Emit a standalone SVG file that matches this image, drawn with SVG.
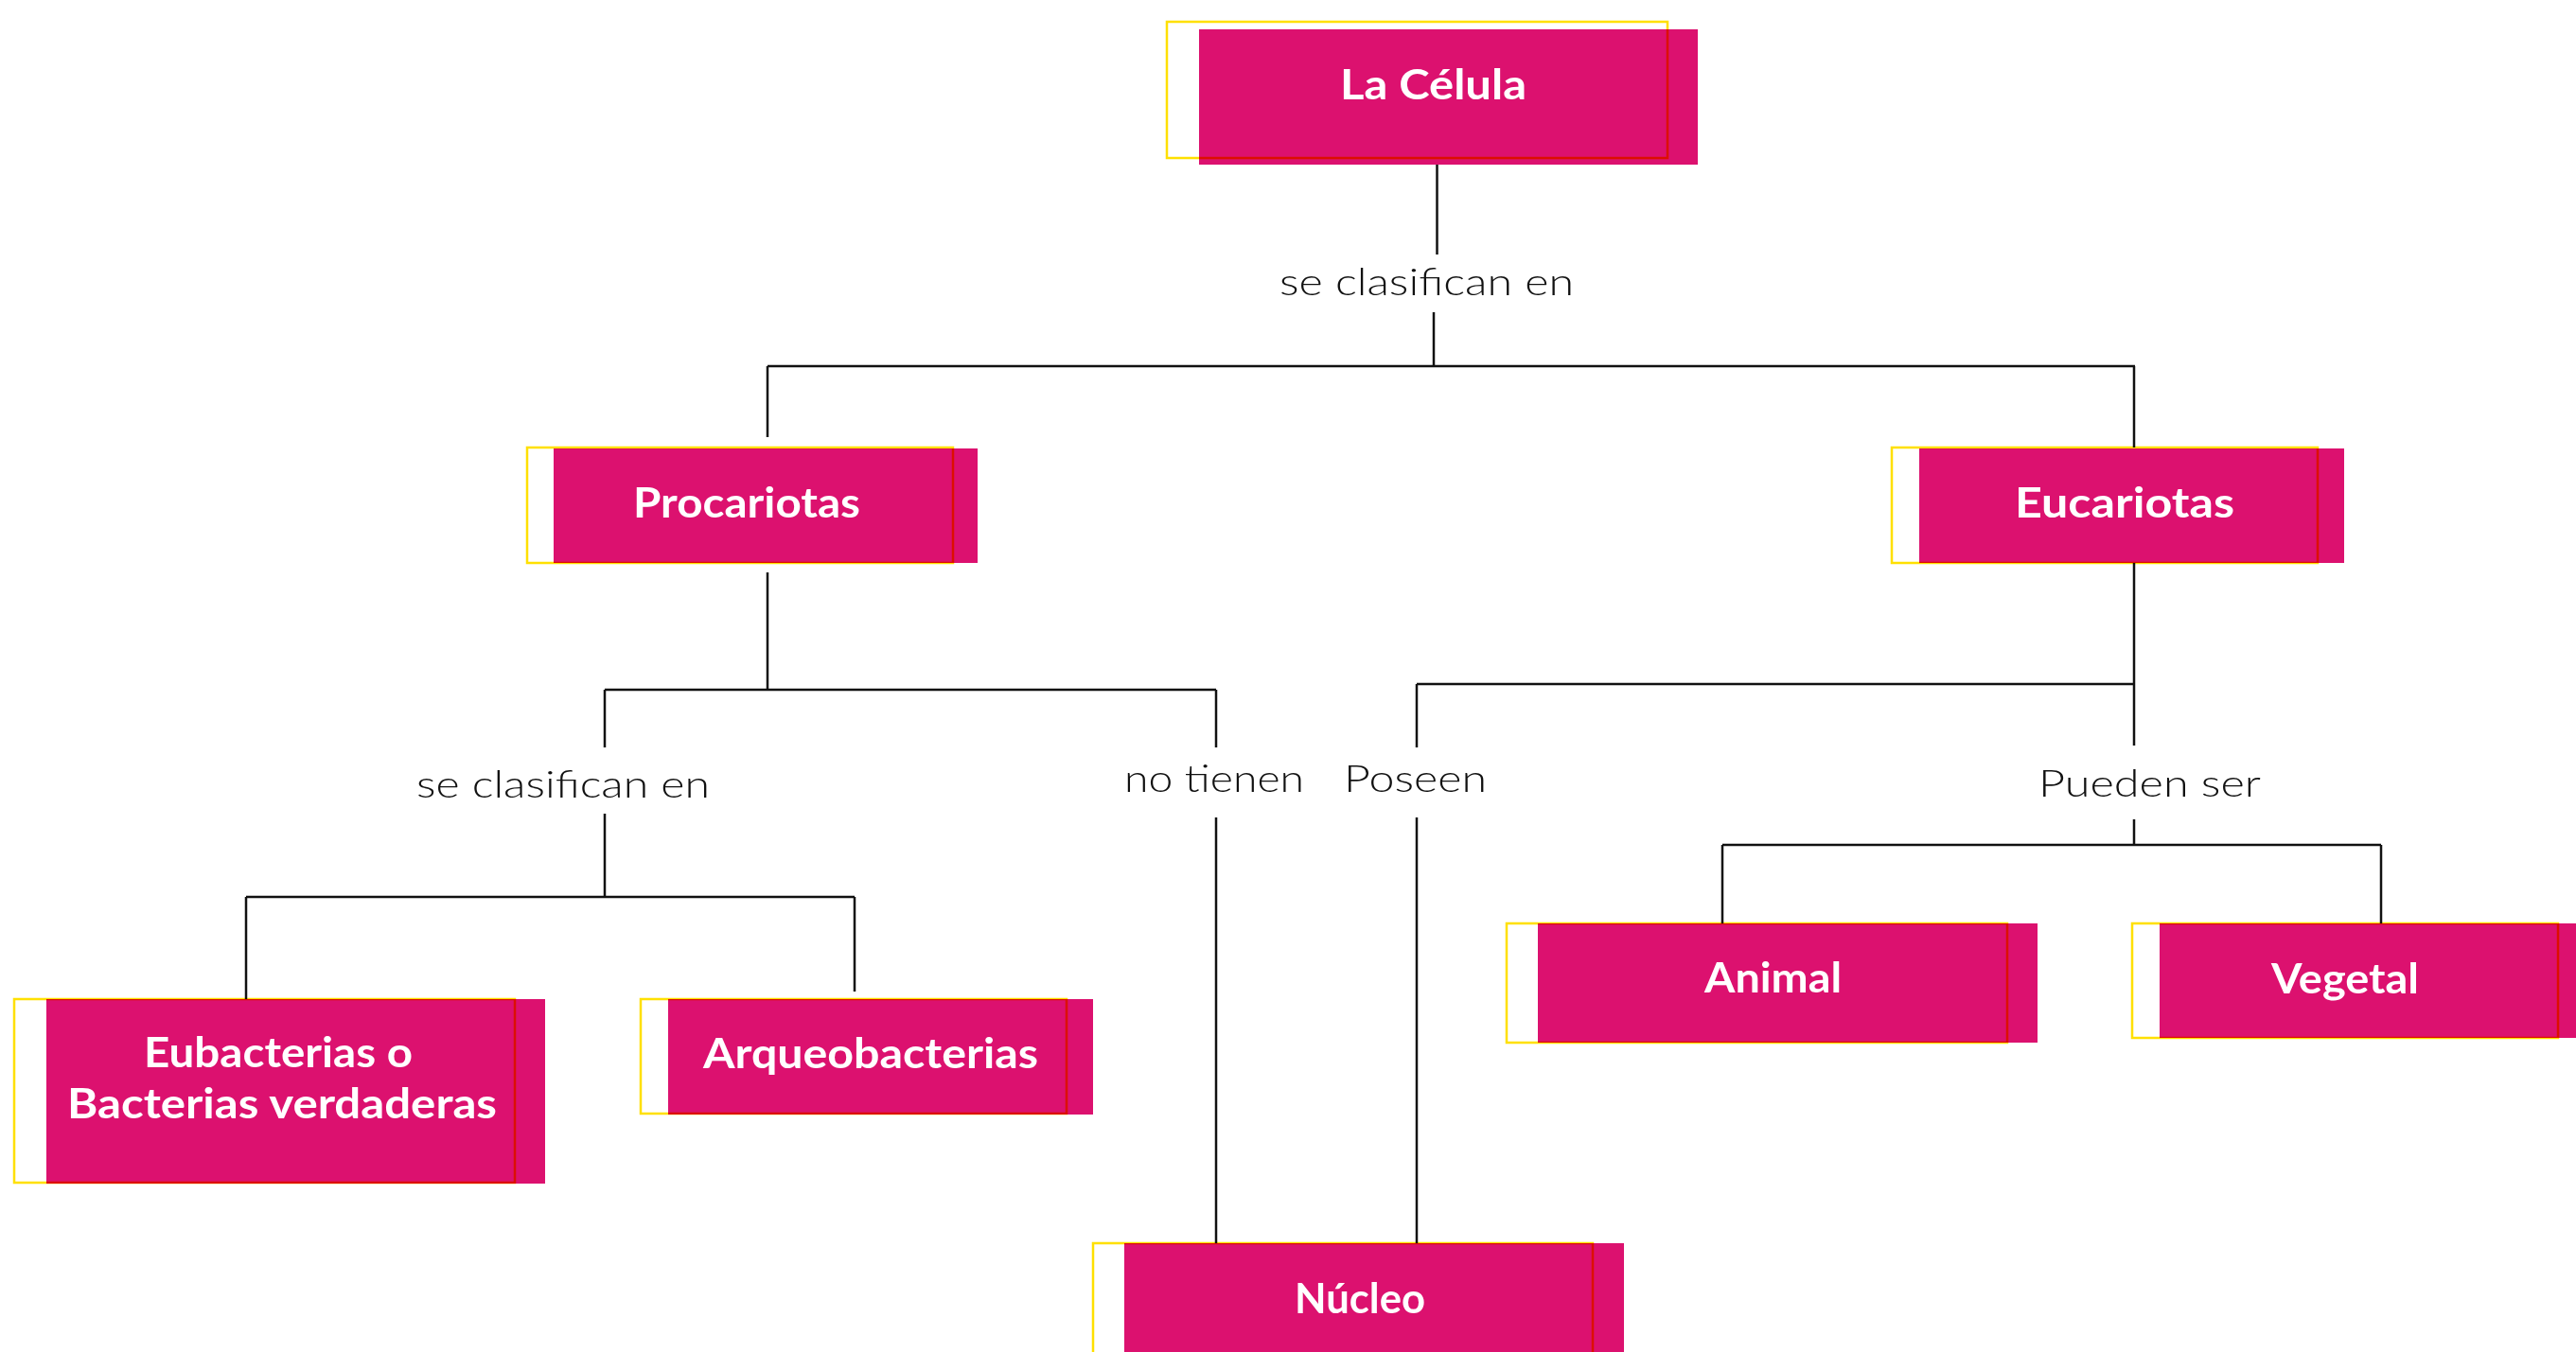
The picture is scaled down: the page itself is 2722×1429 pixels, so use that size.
<svg xmlns="http://www.w3.org/2000/svg" width="2722" height="1429" viewBox="0 0 2722 1429">
<style>
.fill{fill:#DC116F;}
.out{fill:none;stroke:#FFE000;stroke-width:2.5;mix-blend-mode:multiply;}
.t{fill:#FFFFFF;font-family:Lato,"Open Sans","Liberation Sans",sans-serif;font-weight:700;font-size:44px;}
.lb{fill:#111111;font-family:Lato,"Open Sans","Liberation Sans",sans-serif;font-weight:300;font-size:40px;}
.c{fill:none;stroke:#111111;stroke-width:2.5;}
</style>
<rect x="0" y="0" width="2722" height="1429" fill="#FFFFFF"/>
<g id="connectors">
<path class="c" d="M1518.5 174 V269"/>
<path class="c" d="M1515 330 V387 M811 387 H2256 M811 387 V462 M2255 387 V473"/>
<path class="c" d="M811 605 V729 M639 729 H1285 M639 729 V790 M1285 729 V790"/>
<path class="c" d="M639 860 V948 M260 948 H903 M260 948 V1056 M903 948 V1048"/>
<path class="c" d="M1285 864 V1314"/>
<path class="c" d="M2255 595 V788 M1497 723 H2256 M1497 723 V790 M1497 864 V1314"/>
<path class="c" d="M2255 866 V893 M1820 893 H2516 M1820 893 V976 M2516 893 V976"/>
</g>
<g id="labels">
<text class="lb" x="1352" y="312" textLength="311" lengthAdjust="spacingAndGlyphs">se clasifican en</text>
<text class="lb" x="440" y="843" textLength="310" lengthAdjust="spacingAndGlyphs">se clasifican en</text>
<text class="lb" x="1188" y="837" textLength="190" lengthAdjust="spacingAndGlyphs">no tienen</text>
<text class="lb" x="1420" y="837" textLength="151" lengthAdjust="spacingAndGlyphs">Poseen</text>
<text class="lb" x="2154" y="842" textLength="235" lengthAdjust="spacingAndGlyphs">Pueden ser</text>
</g>
<g id="la-celula">
<rect class="fill" x="1267" y="31" width="527" height="143"/>
<rect class="out" x="1233" y="23" width="529" height="144"/>
<text class="t" x="1416" y="105" textLength="197" lengthAdjust="spacingAndGlyphs">La Célula</text>
</g>
<g id="procariotas">
<rect class="fill" x="585" y="474" width="448" height="121"/>
<rect class="out" x="557" y="473" width="450" height="122"/>
<text class="t" x="669" y="547" textLength="240" lengthAdjust="spacingAndGlyphs">Procariotas</text>
</g>
<g id="eucariotas">
<rect class="fill" x="2028" y="474" width="449" height="121"/>
<rect class="out" x="1999" y="473" width="450" height="122"/>
<text class="t" x="2129" y="547" textLength="232" lengthAdjust="spacingAndGlyphs">Eucariotas</text>
</g>
<g id="eubacterias">
<rect class="fill" x="49" y="1056" width="527" height="195"/>
<rect class="out" x="15" y="1056" width="529" height="194"/>
<text class="t" x="152" y="1128" textLength="284" lengthAdjust="spacingAndGlyphs">Eubacterias o</text>
<text class="t" x="71" y="1182" textLength="454" lengthAdjust="spacingAndGlyphs">Bacterias verdaderas</text>
</g>
<g id="arqueobacterias">
<rect class="fill" x="706" y="1056" width="449" height="122"/>
<rect class="out" x="677" y="1056" width="450" height="121"/>
<text class="t" x="743" y="1129" textLength="354" lengthAdjust="spacingAndGlyphs">Arqueobacterias</text>
</g>
<g id="nucleo">
<rect class="fill" x="1188" y="1314" width="528" height="130"/>
<rect class="out" x="1155" y="1314" width="528" height="130"/>
<text class="t" x="1368" y="1388" textLength="138" lengthAdjust="spacingAndGlyphs">Núcleo</text>
</g>
<g id="animal">
<rect class="fill" x="1625" y="976" width="528" height="126"/>
<rect class="out" x="1592" y="976" width="529" height="126"/>
<text class="t" x="1801" y="1049" textLength="145" lengthAdjust="spacingAndGlyphs">Animal</text>
</g>
<g id="vegetal">
<rect class="fill" x="2282" y="976" width="460" height="121"/>
<rect class="out" x="2253" y="976" width="450" height="121"/>
<text class="t" x="2400" y="1050" textLength="156" lengthAdjust="spacingAndGlyphs">Vegetal</text>
</g>
</svg>
